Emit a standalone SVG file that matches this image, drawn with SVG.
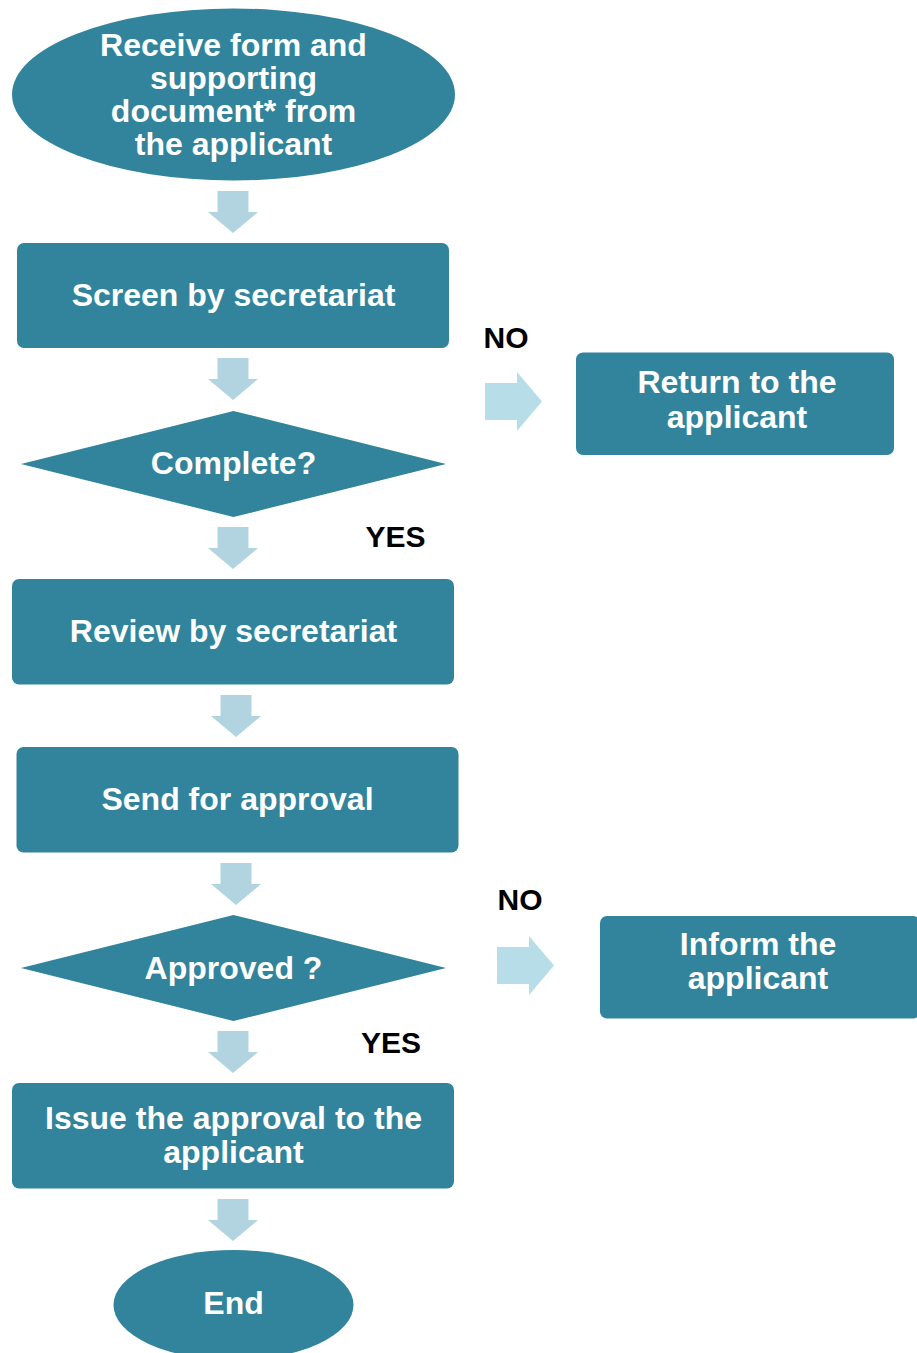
<svg xmlns="http://www.w3.org/2000/svg" xmlns:xlink="http://www.w3.org/1999/xlink" width="917" height="1353" viewBox="0 0 917 1353">
  <style>
    .node { fill: #31849B; }
    .lbl { font-family: "Liberation Sans", Arial, sans-serif; font-weight: bold; font-size: 32px; fill: #FFFFFF; text-anchor: middle; }
    .yn { font-family: "Liberation Sans", Arial, sans-serif; font-weight: bold; font-size: 30px; fill: #000000; text-anchor: middle; }
    .down { fill: #B2D4E1; }
    .right { fill: #B7DEE8; }
  </style>
  <defs>
    <path id="arrowDown" d="M-15.5,0 H15.5 V21 H25 L0,42 L-25,21 H-15.5 Z"/>
    <path id="arrowRight" d="M0,-18.5 H32 V-29.5 L57,0 L32,29.5 V18.5 H0 Z"/>
  </defs>
  <rect width="917" height="1353" fill="#FFFFFF"/>

  <!-- flow arrows -->
  <g id="connectors">
    <use xlink:href="#arrowDown" class="down" transform="translate(233,191)"/>
    <use xlink:href="#arrowDown" class="down" transform="translate(233,358)"/>
    <use xlink:href="#arrowDown" class="down" transform="translate(233,527)"/>
    <use xlink:href="#arrowDown" class="down" transform="translate(236,695)"/>
    <use xlink:href="#arrowDown" class="down" transform="translate(236,863)"/>
    <use xlink:href="#arrowDown" class="down" transform="translate(233,1031)"/>
    <use xlink:href="#arrowDown" class="down" transform="translate(233,1199)"/>
    <use xlink:href="#arrowRight" class="right" transform="translate(485,401.5)"/>
    <use xlink:href="#arrowRight" class="right" transform="translate(497,965.5)"/>
    <text class="yn" x="506" y="348">NO</text>
    <text class="yn" x="395.5" y="547">YES</text>
    <text class="yn" x="520" y="910">NO</text>
    <text class="yn" x="391" y="1053">YES</text>
  </g>

  <g id="start">
    <ellipse class="node" cx="233.5" cy="94.5" rx="221.5" ry="86"/>
    <text class="lbl" x="233.5" y="55.5">Receive form and</text>
    <text class="lbl" x="233.5" y="88.7">supporting</text>
    <text class="lbl" x="233.5" y="122">document* from</text>
    <text class="lbl" x="233.5" y="155">the applicant</text>
  </g>

  <g id="screen">
    <rect class="node" x="17" y="243" width="432" height="105" rx="7"/>
    <text class="lbl" x="233.5" y="305.5">Screen by secretariat</text>
  </g>

  <g id="complete">
    <polygon class="node" points="21,464 233.5,411 446,464 233.5,517"/>
    <text class="lbl" x="233.5" y="474">Complete?</text>
  </g>

  <g id="return">
    <rect class="node" x="576" y="352.5" width="318" height="102.5" rx="7"/>
    <text class="lbl" x="737" y="392.5">Return to the</text>
    <text class="lbl" x="737" y="427.5">applicant</text>
  </g>

  <g id="review">
    <rect class="node" x="12" y="579" width="442" height="105.5" rx="7"/>
    <text class="lbl" x="233.5" y="642">Review by secretariat</text>
  </g>

  <g id="send">
    <rect class="node" x="16.5" y="747" width="442" height="105.5" rx="7"/>
    <text class="lbl" x="237.5" y="810">Send for approval</text>
  </g>

  <g id="approved">
    <polygon class="node" points="21,968 233.5,915 446,968 233.5,1021"/>
    <text class="lbl" x="233.5" y="978.5">Approved ?</text>
  </g>

  <g id="inform">
    <rect class="node" x="600" y="916" width="320" height="102.5" rx="7"/>
    <text class="lbl" x="758" y="954.5">Inform the</text>
    <text class="lbl" x="758" y="988.5">applicant</text>
  </g>

  <g id="issue">
    <rect class="node" x="12" y="1083" width="442" height="105.5" rx="7"/>
    <text class="lbl" x="233.5" y="1128.5">Issue the approval to the</text>
    <text class="lbl" x="233.5" y="1162.5">applicant</text>
  </g>

  <g id="end">
    <ellipse class="node" cx="233.5" cy="1305" rx="120" ry="55"/>
    <text class="lbl" x="233.5" y="1314">End</text>
  </g>
</svg>
